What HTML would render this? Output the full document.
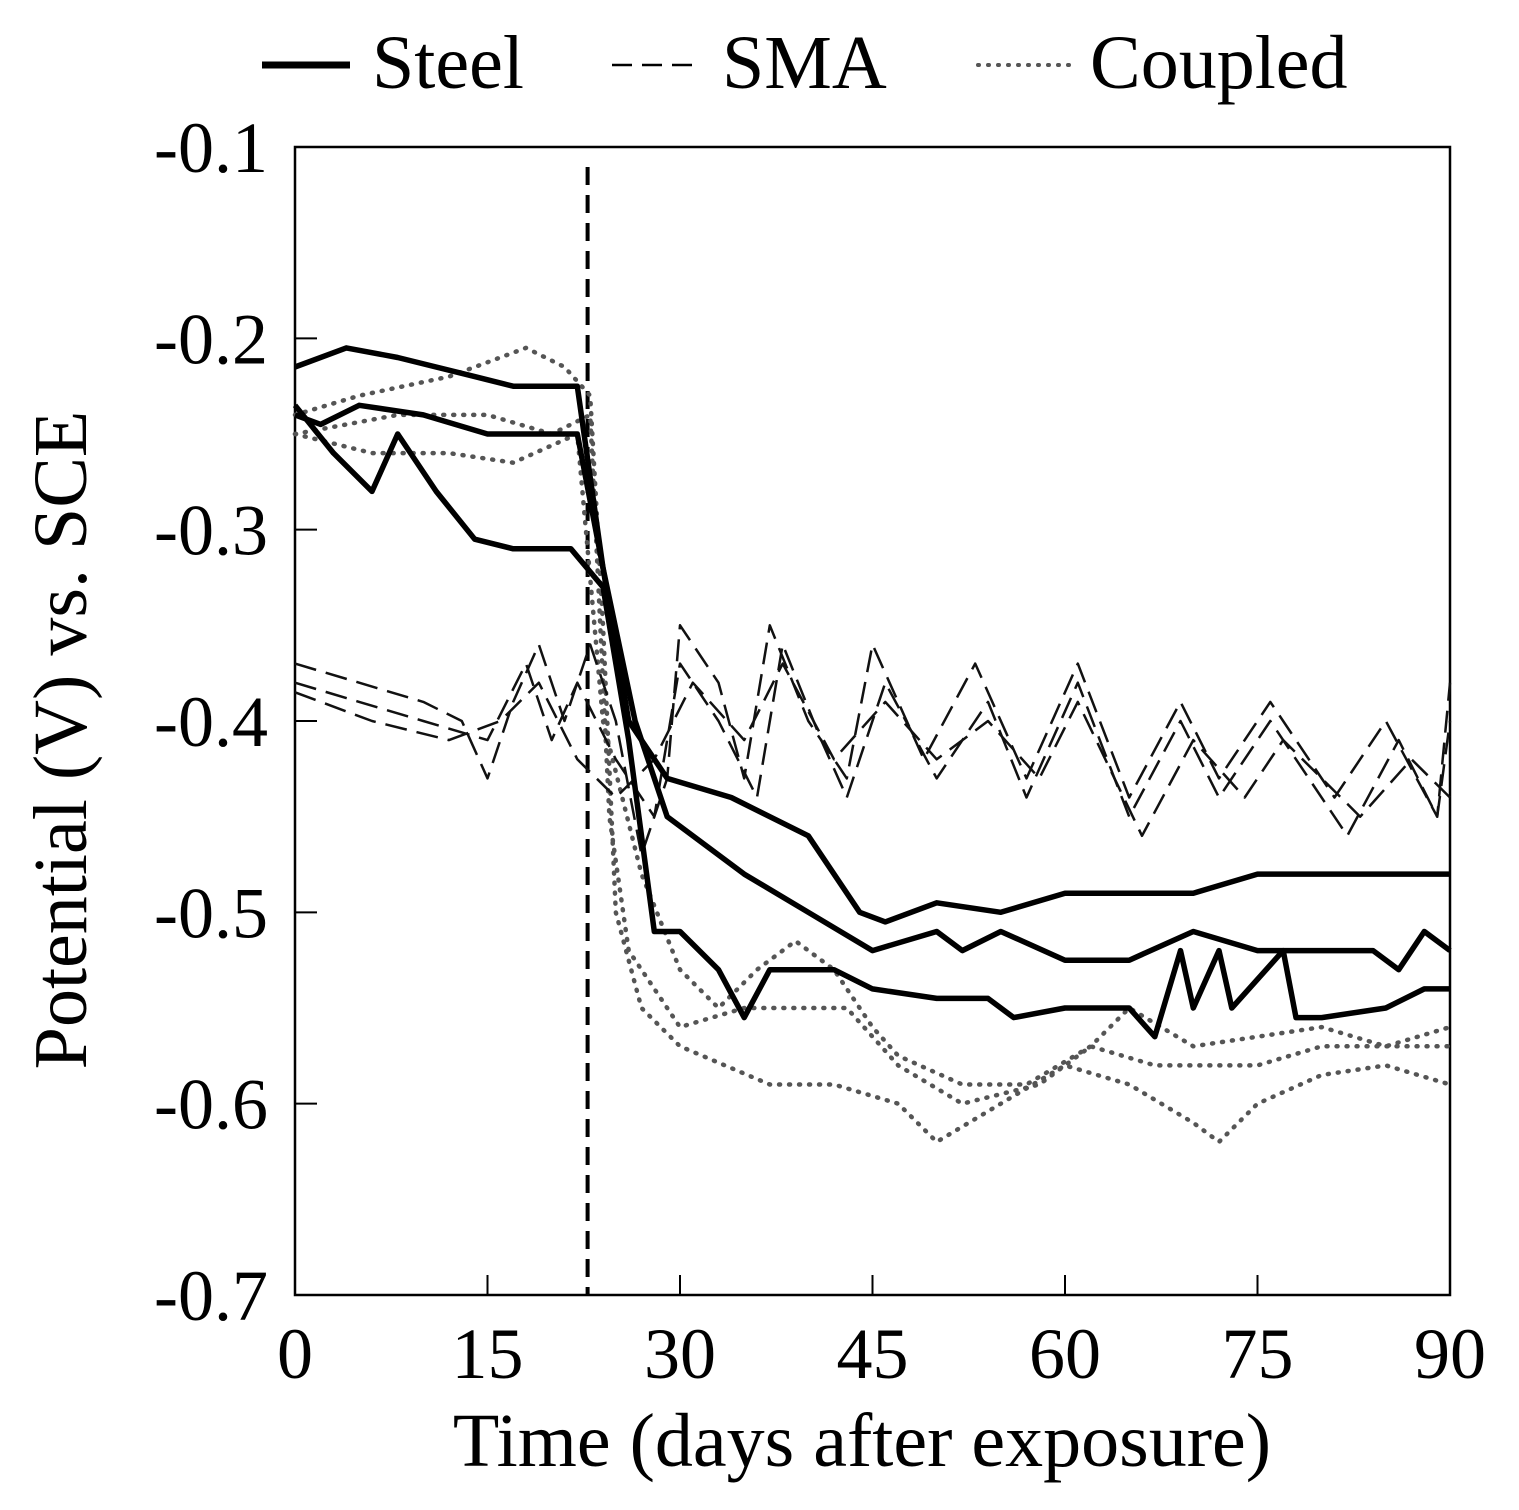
<!DOCTYPE html>
<html><head><meta charset="utf-8"><style>
html,body{margin:0;padding:0;background:#fff;}
svg{display:block;font-family:"Liberation Serif",serif;}
</style></head><body>
<svg id="chart" width="1519" height="1510" viewBox="0 0 1519 1510">
<g>
  <line x1="262" y1="65" x2="350" y2="65" stroke="#000" stroke-width="7"/>
  <text x="372" y="88" font-size="76">Steel</text>
  <line x1="612" y1="65" x2="700" y2="65" stroke="#000" stroke-width="2.5" stroke-dasharray="20,10"/>
  <text x="722" y="88" font-size="76">SMA</text>
  <line x1="978" y1="65" x2="1072" y2="65" stroke="#555" stroke-width="4" stroke-dasharray="1,9" stroke-linecap="round"/>
  <text x="1090" y="88" font-size="76">Coupled</text>
</g>
<rect x="295" y="147" width="1155" height="1148" fill="none" stroke="#000" stroke-width="2.5"/>
<g id="axes"></g>
<g id="series"></g>
<text x="0" y="0" font-size="76" text-anchor="middle" transform="translate(86,740) rotate(-90)">Potential (V) vs. SCE</text>
<text x="862" y="1466" font-size="76" text-anchor="middle">Time (days after exposure)</text>
</svg>
<script>
const xTicks=[0,15,30,45,60,75,90];
const yTicks=[-0.1,-0.2,-0.3,-0.4,-0.5,-0.6,-0.7];
const yTickLabels=["-0.1","-0.2","-0.3","-0.4","-0.5","-0.6","-0.7"];
const markerDay=22.8;
const steel1=[[0,-0.215],[4,-0.205],[8,-0.21],[14,-0.22],[17,-0.225],[22,-0.225],[24,-0.32],[26,-0.40],[29,-0.43],[34,-0.44],[40,-0.46],[44,-0.50],[46,-0.505],[50,-0.495],[55,-0.5],[60,-0.49],[65,-0.49],[70,-0.49],[75,-0.48],[80,-0.48],[90,-0.48]];
const steel2=[[0,-0.24],[2,-0.245],[5,-0.235],[10,-0.24],[15,-0.25],[22,-0.25],[24,-0.32],[26.5,-0.40],[29,-0.45],[35,-0.48],[40,-0.50],[45,-0.52],[50,-0.51],[52,-0.52],[55,-0.51],[60,-0.525],[65,-0.525],[70,-0.51],[75,-0.52],[80,-0.52],[84,-0.52],[86,-0.53],[88,-0.51],[90,-0.52]];
const steel3=[[0,-0.235],[3,-0.26],[6,-0.28],[8,-0.25],[11,-0.28],[14,-0.305],[17,-0.31],[21.5,-0.31],[24,-0.33],[26,-0.41],[28,-0.51],[30,-0.51],[33,-0.53],[35,-0.555],[37,-0.53],[42,-0.53],[45,-0.54],[50,-0.545],[54,-0.545],[56,-0.555],[60,-0.55],[65,-0.55],[67,-0.565],[69,-0.52],[70,-0.55],[72,-0.52],[73,-0.55],[77,-0.52],[78,-0.555],[80,-0.555],[85,-0.55],[88,-0.54],[90,-0.54]];
const sma1=[[0,-0.37],[5,-0.38],[10,-0.39],[13,-0.40],[15,-0.43],[17,-0.39],[19,-0.36],[21,-0.40],[23,-0.36],[25,-0.40],[27,-0.47],[29,-0.43],[30,-0.35],[33,-0.38],[35,-0.43],[37,-0.35],[40,-0.40],[43,-0.43],[45,-0.36],[49,-0.42],[53,-0.37],[57,-0.43],[61,-0.37],[65,-0.44],[69,-0.39],[72,-0.43],[76,-0.39],[81,-0.44],[85,-0.40],[89,-0.45],[90,-0.38]];
const sma2=[[0,-0.38],[5,-0.39],[10,-0.40],[15,-0.41],[18,-0.37],[20,-0.41],[22,-0.38],[25,-0.42],[28,-0.45],[30,-0.37],[33,-0.40],[36,-0.44],[38,-0.36],[41,-0.41],[43,-0.44],[46,-0.38],[50,-0.43],[54,-0.39],[57,-0.44],[61,-0.38],[65,-0.45],[69,-0.40],[72,-0.44],[76,-0.40],[82,-0.46],[86,-0.41],[89,-0.45],[90,-0.40]];
const sma3=[[0,-0.385],[6,-0.40],[12,-0.41],[16,-0.40],[19,-0.38],[22,-0.42],[25,-0.44],[28,-0.42],[31,-0.38],[35,-0.41],[38,-0.37],[42,-0.42],[46,-0.39],[50,-0.42],[54,-0.40],[58,-0.43],[61,-0.39],[66,-0.46],[70,-0.41],[74,-0.44],[77,-0.41],[83,-0.45],[87,-0.42],[90,-0.44]];
const coupled1=[[0,-0.24],[5,-0.23],[12,-0.22],[18,-0.205],[21,-0.215],[23,-0.23],[24,-0.35],[25,-0.50],[27,-0.55],[30,-0.57],[37,-0.59],[42,-0.59],[47,-0.60],[50,-0.62],[55,-0.60],[60,-0.58],[65,-0.59],[70,-0.61],[72,-0.62],[75,-0.60],[80,-0.585],[85,-0.58],[90,-0.59]];
const coupled2=[[0,-0.25],[8,-0.24],[15,-0.24],[20,-0.25],[23,-0.24],[24.5,-0.45],[26,-0.52],[30,-0.56],[35,-0.55],[40,-0.55],[43,-0.55],[47,-0.58],[52,-0.60],[58,-0.59],[62,-0.57],[67,-0.58],[75,-0.58],[80,-0.57],[90,-0.57]];
const coupled3=[[0,-0.25],[6,-0.26],[12,-0.26],[17,-0.265],[22,-0.25],[24,-0.40],[27,-0.48],[30,-0.53],[33,-0.55],[36,-0.53],[39,-0.515],[42,-0.53],[45,-0.56],[47,-0.575],[52,-0.59],[57,-0.59],[62,-0.57],[65,-0.55],[70,-0.57],[75,-0.565],[80,-0.56],[85,-0.57],[90,-0.56]];

const X0=295,X1=1450,Y0=147,Y1=1295;
function xs(d){return X0+(d-0)/(90-0)*(X1-X0);}
function ys(v){return Y0+(-0.1-v)/0.6*(Y1-Y0);}
const NS='http://www.w3.org/2000/svg';
const axes=document.getElementById('axes'), ser=document.getElementById('series');
function mk(tag,attrs,parent){const e=document.createElementNS(NS,tag);for(const k in attrs)e.setAttribute(k,attrs[k]);parent.appendChild(e);return e;}
xTicks.forEach(t=>{
  const l=mk('line',{x1:xs(t),x2:xs(t),y1:Y1,y2:Y1-20,stroke:'#000','stroke-width':2},axes);
  
  
  const tx=mk('text',{x:xs(t),y:1378,'font-size':72,'text-anchor':'middle'},axes);
  tx.textContent=t;
  
  
});
yTicks.forEach((t,i)=>{
  const l=mk('line',{x1:X0,x2:X0+22,y1:ys(t),y2:ys(t),stroke:'#000','stroke-width':2},axes);
  
  
  const tx=mk('text',{x:268,y:ys(t)+25,'font-size':72,'text-anchor':'end'},axes);
  tx.textContent=yTickLabels[i];
  
  
});
const vl=mk('line',{x1:xs(markerDay),x2:xs(markerDay),y1:Y0+20,y2:Y1,stroke:'#000','stroke-width':4,'stroke-dasharray':'18,10'},axes);


function draw(pts,style,name){
  const d=pts.map((p,i)=>(i?'L':'M')+xs(p[0]).toFixed(1)+','+ys(p[1]).toFixed(1)).join(' ');
  const p=mk('path',Object.assign({d:d,fill:'none','stroke-linejoin':'round'},style),ser);
  
  
}
const sS={stroke:'#000','stroke-width':5.5};
const sD={stroke:'#111','stroke-width':2.5,'stroke-dasharray':'22,10'};
const sC={stroke:'#555','stroke-width':4.5,'stroke-dasharray':'1,9','stroke-linecap':'round'};
draw(coupled1,sC,'coupled-line-1');draw(coupled2,sC,'coupled-line-2');draw(coupled3,sC,'coupled-line-3');
draw(sma1,sD,'sma-line-1');draw(sma2,sD,'sma-line-2');draw(sma3,sD,'sma-line-3');
draw(steel1,sS,'steel-line-1');draw(steel2,sS,'steel-line-2');draw(steel3,sS,'steel-line-3');
</script>
</body></html>
